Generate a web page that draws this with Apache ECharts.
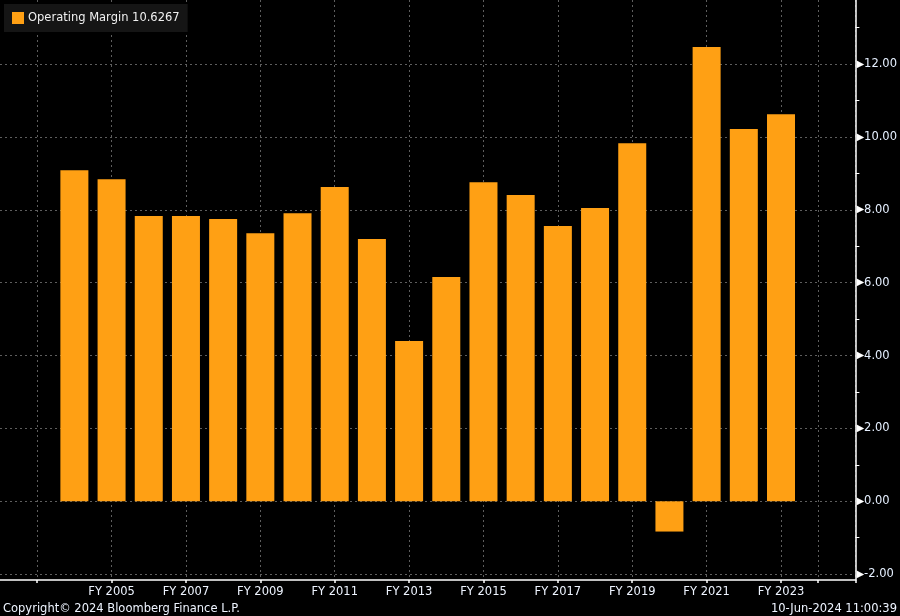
<!DOCTYPE html>
<html>
<head>
<meta charset="utf-8">
<script src="https://cdn.jsdelivr.net/npm/echarts@6/dist/echarts.min.js"></script>
<style>
  html, body { margin: 0; padding: 0; background: #000; }
  #chart-container { width: 900px; height: 616px; }
</style>
</head>
<body>
<div id="chart-container"></div>
<script>
// fiscal years and operating margin (%)
var years = ['FY 2004', 'FY 2005', 'FY 2006', 'FY 2007', 'FY 2008', 'FY 2009', 'FY 2010',
    'FY 2011', 'FY 2012', 'FY 2013', 'FY 2014', 'FY 2015', 'FY 2016', 'FY 2017',
    'FY 2018', 'FY 2019', 'FY 2020', 'FY 2021', 'FY 2022', 'FY 2023'];
var margin = [9.09, 8.84, 7.83, 7.83, 7.75, 7.36, 7.91, 8.63, 7.20, 4.40,
    6.16, 8.76, 8.41, 7.56, 8.05, 9.83, -0.83, 12.47, 10.22, 10.6267];
var yTicks = [-2, 0, 2, 4, 6, 8, 10, 12];
var yMinorTicks = [-1, 1, 3, 5, 7, 9, 11, 13];

// empty slots either side of the data, like the terminal chart
var axisYears = ['FY 2002', 'FY 2003'].concat(years, ['FY 2024', 'FY 2025']);
var barData = axisYears.map(function (y) {
    var i = years.indexOf(y);
    return i < 0 ? null : margin[i];
});
function yr(name) { return parseInt(name.slice(3), 10); }

var dom = document.getElementById('chart-container');
var myChart = echarts.init(dom, null, { renderer: 'canvas' });

var font = 'DejaVu Sans';
var gridLine = { show: true, lineStyle: { color: '#5e5e5e', type: [2, 3], width: 1 } };

var option = {
    backgroundColor: '#000',
    animation: false,
    textStyle: { fontFamily: font },
    grid: { left: 0, right: 44, top: 0, bottom: 36, containLabel: false },
    legend: {
        left: 4, top: 4,
        padding: [8, 8, 8, 8],
        backgroundColor: '#151515',
        itemWidth: 12, itemHeight: 12, itemGap: 0,
        icon: 'rect',
        textStyle: { color: '#f0f0f0', fontSize: 11.5, fontFamily: font, padding: [0, 0, 0, -1] },
        formatter: function (n) { return n + ' ' + margin[margin.length - 1].toFixed(4); },
        data: ['Operating Margin']
    },
    xAxis: {
        type: 'category',
        data: axisYears,
        boundaryGap: false,
        axisLine: { show: true, onZero: false, lineStyle: { color: '#fff', width: 1.5 } },
        axisTick: {
            show: true, length: 3, inside: false,
            interval: function (i, v) { var y = yr(v); return y % 2 === 1 || y === 2024; },
            lineStyle: { color: '#fff', width: 1.5 }
        },
        axisLabel: {
            color: '#eef4ff', fontSize: 11.5, fontFamily: font, margin: 6,
            interval: function (i, v) { var y = yr(v); return y % 2 === 1 && y >= 2005 && y <= 2023; }
        },
        splitLine: {
            show: true,
            interval: function (i, v) { var y = yr(v); return (y % 2 === 1 && y >= 2003) || y === 2024; },
            lineStyle: gridLine.lineStyle
        }
    },
    yAxis: [{
        type: 'value',
        position: 'right',
        min: -2.16, max: 13.76,
        axisLine: { show: true, onZero: false, lineStyle: { color: '#fff', width: 1.5 } },
        axisTick: { show: false, customValues: yTicks },
        axisLabel: {
            customValues: yTicks,
            margin: 1,
            color: '#e6f0ff', fontSize: 11.5, fontFamily: font,
            formatter: function (v) { return '{t|▶}' + v.toFixed(2); },
            rich: { t: { color: '#fff', fontSize: 10, padding: [0, 0, 0, 0] } }
        },
        splitLine: gridLine
    }, {
        type: 'value',
        position: 'right',
        min: -2.16, max: 13.76,
        axisLine: { show: false },
        axisTick: { show: true, customValues: yMinorTicks, length: 4, inside: false, lineStyle: { color: '#fff', width: 1 } },
        axisLabel: { show: false },
        splitLine: { show: false }
    }],
    series: [{
        name: 'Operating Margin',
        type: 'bar',
        data: barData,
        barWidth: 28,
        itemStyle: { color: '#ffa014' }
    }],
    graphic: [{
        type: 'text', left: 3, bottom: 1,
        style: { text: 'Copyright\u00a9 2024 Bloomberg Finance L.P.', fill: '#eef4ff', font: '11.5px "DejaVu Sans"' }
    }, {
        type: 'text', right: 3, bottom: 1,
        style: { text: '10-Jun-2024 11:00:39', fill: '#eef4ff', font: '11.5px "DejaVu Sans"' }
    }]
};

myChart.setOption(option);
window.addEventListener('resize', myChart.resize);
</script>
</body>
</html>
